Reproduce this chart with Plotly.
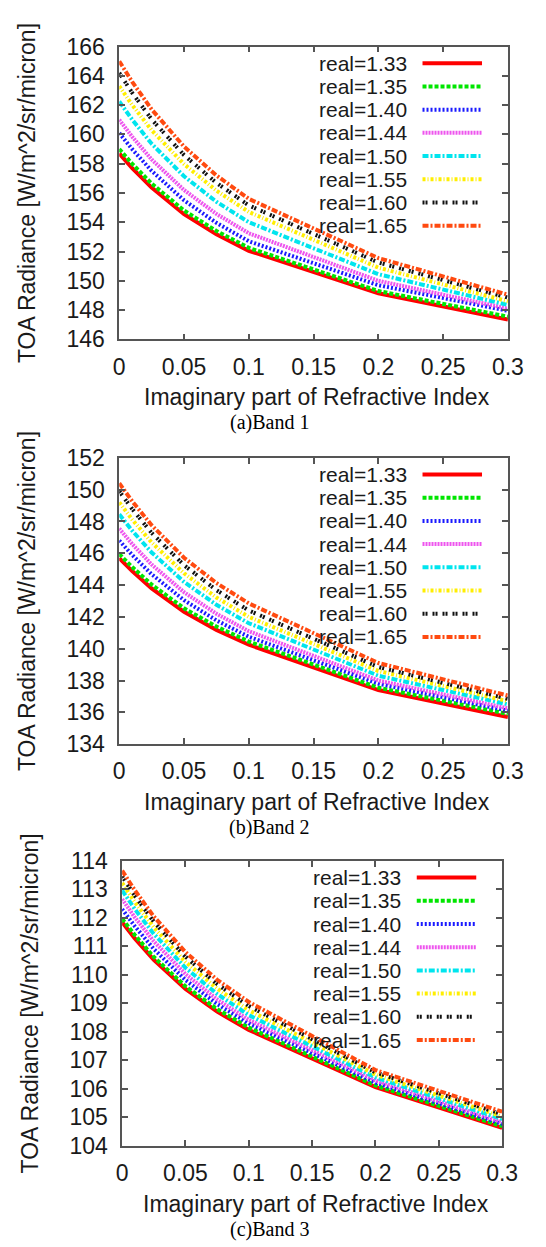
import plotly.graph_objects as go

# ---------------- data ----------------
imag_part = [0, 0.01, 0.025, 0.05, 0.075, 0.1, 0.2, 0.3]
real_labels = ["real=1.33", "real=1.35", "real=1.40", "real=1.44",
               "real=1.50", "real=1.55", "real=1.60", "real=1.65"]

band1_133 = [158.7, 157.7, 156.37, 154.55, 153.18, 152.05, 149.15, 147.35]
band1_135 = [159.0, 157.99, 156.64, 154.8, 153.4, 152.25, 149.3, 147.55]
band1_140 = [160.1, 158.99, 157.51, 155.5, 153.96, 152.7, 149.7, 147.95]
band1_144 = [161.0, 159.84, 158.29, 156.2, 154.57, 153.25, 150.0, 148.1]
band1_150 = [162.25, 161.01, 159.36, 157.14, 155.4, 154.0, 150.45, 148.35]
band1_155 = [163.3, 162.01, 160.29, 157.97, 156.16, 154.7, 150.9, 148.6]
band1_160 = [164.2, 162.84, 161.03, 158.59, 156.69, 155.15, 151.25, 148.85]
band1_165 = [165.0, 163.59, 161.71, 159.17, 157.2, 155.6, 151.55, 149.05]

band2_133 = [145.7, 144.88, 143.79, 142.32, 141.18, 140.25, 137.4, 135.7]
band2_135 = [145.95, 145.13, 144.03, 142.54, 141.39, 140.45, 137.55, 135.9]
band2_140 = [146.8, 145.89, 144.68, 143.05, 141.78, 140.75, 137.8, 136.1]
band2_144 = [147.55, 146.58, 145.29, 143.55, 142.2, 141.1, 138.0, 136.25]
band2_150 = [148.45, 147.42, 146.05, 144.2, 142.76, 141.6, 138.3, 136.5]
band2_155 = [149.2, 148.12, 146.68, 144.74, 143.22, 142.0, 138.6, 136.7]
band2_160 = [149.9, 148.78, 147.28, 145.25, 143.68, 142.4, 138.85, 136.85]
band2_165 = [150.4, 149.27, 147.76, 145.72, 144.13, 142.85, 139.1, 137.05]

band3_133 = [111.85, 111.28, 110.53, 109.51, 108.71, 108.07, 106.06, 104.63]
band3_135 = [111.97, 111.4, 110.63, 109.6, 108.8, 108.15, 106.12, 104.69]
band3_140 = [112.31, 111.71, 110.91, 109.82, 108.98, 108.3, 106.22, 104.77]
band3_144 = [112.66, 112.02, 111.18, 110.03, 109.14, 108.42, 106.3, 104.83]
band3_150 = [112.97, 112.31, 111.44, 110.25, 109.33, 108.59, 106.4, 104.94]
band3_155 = [113.23, 112.56, 111.67, 110.46, 109.52, 108.76, 106.5, 105.03]
band3_160 = [113.46, 112.78, 111.87, 110.64, 109.68, 108.91, 106.58, 105.11]
band3_165 = [113.66, 112.97, 112.05, 110.8, 109.83, 109.05, 106.66, 105.2]

x_ticks = [0, 0.05, 0.1, 0.15, 0.2, 0.25, 0.3]
captions = ["(a)Band 1", "(b)Band 2", "(c)Band 3"]
y_title = "TOA Radiance [W/m^2/sr/micron]"
x_title = "Imaginary part of Refractive Index"

bands = [
    [band1_133, band1_135, band1_140, band1_144, band1_150, band1_155, band1_160, band1_165],
    [band2_133, band2_135, band2_140, band2_144, band2_150, band2_155, band2_160, band2_165],
    [band3_133, band3_135, band3_140, band3_144, band3_150, band3_155, band3_160, band3_165],
]

# ---------------- style ----------------
W, H = 546, 1247
colors = ["#ff0000", "#00e600", "#1a1aff", "#ee55ee",
          "#00e5ee", "#ffee00", "#111111", "#ff4a10"]
dashes = ["solid", "4px,2px", "2px,2px", "2px,1px",
          "6px,2px,2px,2px", "3px,2px,1px,2px", "2px,1px,2px,5px", "6px,2px,2px,2px"]
LW = 4

# pixel geometry of each panel: (left, right, top, bottom)
panels = [(118, 523, 34.3, 333.3), (118, 523, 454.3, 746.7), (121, 517, 866, 1157)]
y_ranges = [[146, 166], [134, 152], [104, 114]]
y_dticks = [2, 2, 1]

FONT = "Liberation Sans"
TXT = "#1a1a1a"
AX = "#555555"


def fx(px):
    return px / W


def fy(py):
    return 1 - py / H


fig = go.Figure()
annotations = []
shapes = []

for p, (band, (l, r, t, b)) in enumerate(zip(bands, panels)):
    sfx = "" if p == 0 else str(p + 1)
    for i, series in enumerate(band):
        fig.add_trace(go.Scatter(
            x=imag_part, y=series, mode="lines", name=real_labels[i],
            xaxis="x" + sfx, yaxis="y" + sfx, showlegend=False,
            line=dict(color=colors[i], width=LW, dash=dashes[i]),
            hoverinfo="skip"))

    common = dict(showline=True, linecolor=AX, linewidth=1.5, mirror="allticks",
                  ticks="inside", ticklen=6, tickwidth=1.5, tickcolor=AX,
                  showgrid=False, zeroline=False,
                  tickfont=dict(family=FONT, size=23, color=TXT))
    fig.layout["xaxis" + sfx] = dict(
        domain=[fx(l), fx(r)], anchor="y" + sfx, range=[0, 0.3],
        tickvals=x_ticks, ticktext=[f"{v:g}" for v in x_ticks],
        ticklabelstandoff=6, **common)
    fig.layout["yaxis" + sfx] = dict(
        domain=[fy(b), fy(t)], anchor="x" + sfx, range=y_ranges[p],
        dtick=y_dticks[p], tick0=y_ranges[p][0], ticklabelstandoff=8, **common)

    # axis titles
    annotations.append(dict(text=y_title, textangle=-90, xref="paper", yref="paper",
                            x=fx(l - 96), y=fy((t + b) / 2), showarrow=False,
                            xanchor="center", yanchor="middle",
                            font=dict(family=FONT, size=23, color=TXT)))
    annotations.append(dict(text=x_title, xref="paper", yref="paper",
                            x=fx((l + r) / 2 + 4), y=fy(b + 59), showarrow=False,
                            xanchor="center", yanchor="middle",
                            font=dict(family=FONT, size=23, color=TXT)))
    annotations.append(dict(text=captions[p], xref="paper", yref="paper",
                            x=fx(275), y=fy(b + 85), showarrow=False,
                            xanchor="center", yanchor="middle",
                            font=dict(family="Liberation Serif", size=20, color="#000")))

    # key (label text then sample line, gnuplot style)
    for i in range(len(real_labels)):
        ry = t + 17 + i * 23.7
        annotations.append(dict(text=real_labels[i], xref="paper", yref="paper",
                                x=fx(r - 103), y=fy(ry), showarrow=False,
                                xanchor="right", yanchor="middle",
                                font=dict(family=FONT, size=21, color=TXT)))
        shapes.append(dict(type="line", xref="paper", yref="paper",
                           x0=fx(r - 89), x1=fx(r - 27), y0=fy(ry), y1=fy(ry),
                           line=dict(color=colors[i], width=LW, dash=dashes[i])))

fig.update_layout(
    width=W, height=H, autosize=False,
    margin=dict(l=0, r=0, t=0, b=0),
    paper_bgcolor="white", plot_bgcolor="white",
    annotations=annotations, shapes=shapes,
    showlegend=False,
)

fig.write_html("out.html")
